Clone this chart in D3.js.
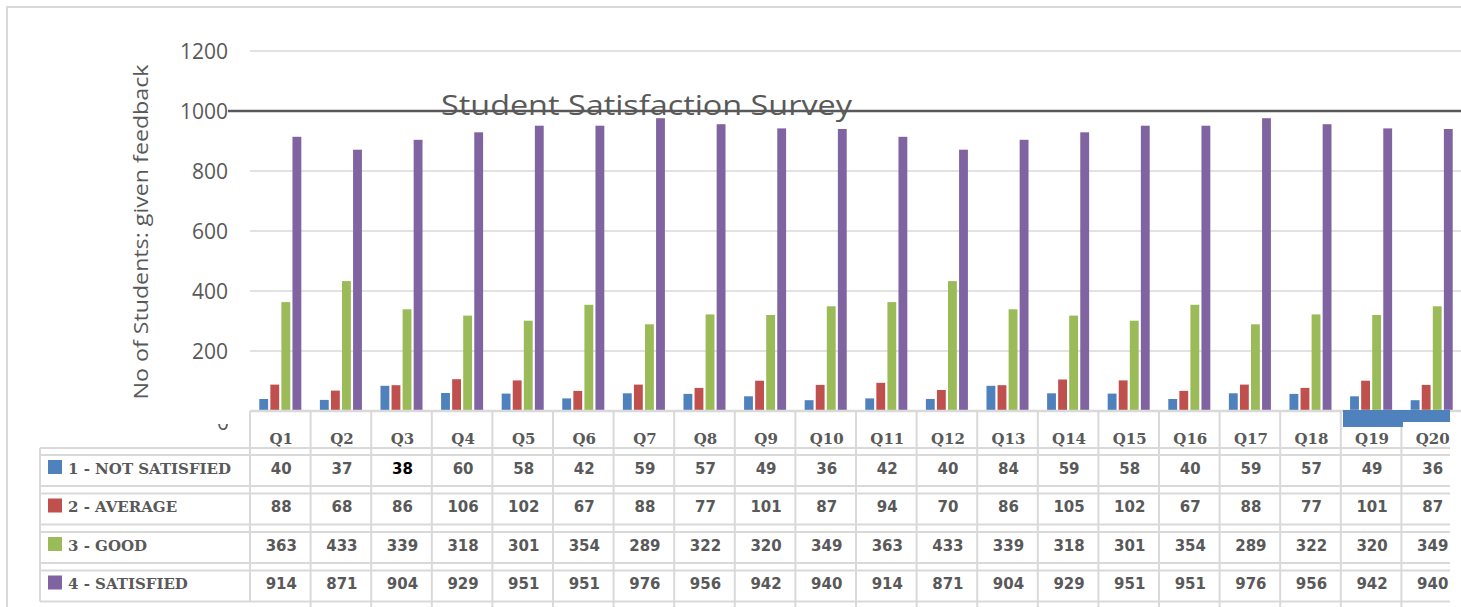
<!DOCTYPE html>
<html>
<head>
<meta charset="utf-8">
<script src="https://cdn.jsdelivr.net/npm/d3@7"></script>
<style>
  body { margin: 0; background: #fff; }
  svg { display: block; }
</style>
</head>
<body>
<script>
const categories = ["Q1","Q2","Q3","Q4","Q5","Q6","Q7","Q8","Q9","Q10",
                    "Q11","Q12","Q13","Q14","Q15","Q16","Q17","Q18","Q19","Q20"];
const seriesNames = ["1 - NOT SATISFIED", "2 - AVERAGE", "3 - GOOD", "4 - SATISFIED"];
const seriesColors = ["#4f81bd", "#c0504d", "#9bbb59", "#8064a2"];

const notSatisfied = [40,37,84,60,58,42,59,57,49,36,42,40,84,59,58,40,59,57,49,36];
const average      = [88,68,86,106,102,67,88,77,101,87,94,70,86,105,102,67,88,77,101,87];
const good         = [363,433,339,318,301,354,289,322,320,349,363,433,339,318,301,354,289,322,320,349];
const satisfied    = [914,871,904,929,951,951,976,956,942,940,914,871,904,929,951,951,976,956,942,940];

const yTicks = [0, 200, 400, 600, 800, 1000, 1200];

// the data table shows 38 for Q3 although the bar is drawn at 84
const editedCell = { row: 0, col: 2, text: "38" };

const series = [notSatisfied, average, good, satisfied];

const W = 1461, H = 607;
const grey = "#595959", lineGrey = "#d9d9d9";

const svg = d3.select("body").append("svg")
    .attr("width", W)
    .attr("height", H);

// outer frame
svg.append("rect")
    .attr("x", 7).attr("y", 7)
    .attr("width", W + 20).attr("height", H + 20)
    .attr("fill", "none")
    .attr("stroke", lineGrey)
    .attr("stroke-width", 2);

const y = d3.scaleLinear().domain([0, 1200]).range([411, 51]);
const cols = d3.scaleBand().domain(categories).range([250, 1462]);
const x0 = d3.scaleBand().domain(categories).range([250, 1462])
    .paddingInner(0.27).paddingOuter(0.135);
const x1 = d3.scaleBand().domain(d3.range(series.length)).range([0, x0.bandwidth()])
    .paddingInner(0.2).paddingOuter(0.1);

// gridlines
svg.append("g").selectAll("line")
  .data(yTicks.filter(d => d > 0))
  .enter().append("line")
    .attr("x1", 250).attr("x2", W)
    .attr("y1", d => y(d)).attr("y2", d => y(d))
    .attr("stroke", lineGrey)
    .attr("stroke-width", 1.5);

// tick labels
svg.append("g").selectAll("text")
  .data(yTicks.filter(d => d > 0))
  .enter().append("text")
    .attr("x", 228)
    .attr("y", d => y(d))
    .attr("dy", "0.36em")
    .attr("text-anchor", "end")
    .attr("font-family", "Open Sans")
    .attr("font-size", 21)
    .attr("fill", grey)
    .text(d => d);

// the "0" label is mostly hidden behind the table header
svg.append("clipPath").attr("id", "zeroClip")
  .append("rect").attr("x", 190).attr("y", 424).attr("width", 50).attr("height", 10);
svg.append("text")
    .attr("clip-path", "url(#zeroClip)")
    .attr("x", 229)
    .attr("y", 430)
    .attr("text-anchor", "end")
    .attr("font-family", "Open Sans")
    .attr("font-size", 21)
    .attr("fill", grey)
    .text(yTicks[0]);

// y axis title
svg.append("text")
    .attr("transform", "translate(148,232) rotate(-90)")
    .attr("text-anchor", "middle")
    .attr("font-family", "Open Sans")
    .attr("font-size", 20)
    .attr("fill", grey)
    .attr("textLength", 335)
    .attr("lengthAdjust", "spacingAndGlyphs")
    .text("No of Students: given feedback");

// bars
const groups = svg.append("g").selectAll("g")
  .data(categories)
  .enter().append("g")
    .attr("transform", d => "translate(" + x0(d) + ",0)");

groups.selectAll("rect")
  .data((d, i) => series.map((s, j) => ({ j: j, v: s[i] })))
  .enter().append("rect")
    .attr("x", d => x1(d.j))
    .attr("y", d => y(d.v))
    .attr("width", x1.bandwidth())
    .attr("height", d => y(0) - y(d.v))
    .attr("fill", d => seriesColors[d.j]);

// dark line across the 1000 level and the title
svg.append("line")
    .attr("x1", 228).attr("x2", W)
    .attr("y1", y(1000)).attr("y2", y(1000))
    .attr("stroke", grey)
    .attr("stroke-width", 2.5);

svg.append("text")
    .attr("x", 646.5)
    .attr("y", 115)
    .attr("text-anchor", "middle")
    .attr("font-family", "Open Sans")
    .attr("font-size", 28)
    .attr("fill", grey)
    .attr("textLength", 411)
    .attr("lengthAdjust", "spacingAndGlyphs")
    .text("Student Satisfaction Survey");

// ---- data table ----
svg.append("clipPath").attr("id", "tableClip")
  .append("rect").attr("x", 0).attr("y", 0).attr("width", 1450).attr("height", H);

const table = svg.append("g").attr("clip-path", "url(#tableClip)");

const rowTop = i => 455 + i * 38.5;
const rowH = 31;

// axis / header top line
svg.append("line")
    .attr("x1", 250).attr("x2", W)
    .attr("y1", 411).attr("y2", 411)
    .attr("stroke", lineGrey).attr("stroke-width", 2.5);

const hLines = [448];
series.forEach((s, i) => { hLines.push(rowTop(i), rowTop(i) + rowH); });

table.selectAll("line.h")
  .data(hLines)
  .enter().append("line")
    .attr("class", "h")
    .attr("x1", 40).attr("x2", 1450)
    .attr("y1", d => d).attr("y2", d => d)
    .attr("stroke", lineGrey).attr("stroke-width", 2);

table.append("line")
    .attr("x1", 40).attr("x2", 40)
    .attr("y1", 448).attr("y2", rowTop(3) + rowH)
    .attr("stroke", lineGrey).attr("stroke-width", 2);
table.append("line")
    .attr("x1", 250).attr("x2", 250)
    .attr("y1", 411).attr("y2", rowTop(3) + rowH)
    .attr("stroke", lineGrey).attr("stroke-width", 2);

table.selectAll("line.v")
  .data(categories.slice(1))
  .enter().append("line")
    .attr("class", "v")
    .attr("x1", d => cols(d)).attr("x2", d => cols(d))
    .attr("y1", 411).attr("y2", H)
    .attr("stroke", lineGrey).attr("stroke-width", 2);

// header labels
table.selectAll("text.q")
  .data(categories)
  .enter().append("text")
    .attr("class", "q")
    .attr("x", d => cols(d) + cols.bandwidth() / 2 + 1)
    .attr("y", 444)
    .attr("text-anchor", "middle")
    .attr("font-family", "DejaVu Serif")
    .attr("font-weight", "bold")
    .attr("font-size", 15)
    .attr("fill", grey)
    .text(d => d);

// legend keys + row labels
const rows = table.selectAll("g.row")
  .data(seriesNames)
  .enter().append("g")
    .attr("class", "row");

rows.append("rect")
    .attr("x", 48)
    .attr("y", (d, i) => rowTop(i) + 5)
    .attr("width", 14).attr("height", 14)
    .attr("fill", (d, i) => seriesColors[i]);

rows.append("text")
    .attr("x", 68)
    .attr("y", (d, i) => rowTop(i) + 18.5)
    .attr("font-family", "DejaVu Serif")
    .attr("font-weight", "bold")
    .attr("font-size", 15)
    .attr("fill", grey)
    .text(d => d);

// values
rows.each(function (name, i) {
  d3.select(this).selectAll("text.val")
    .data(series[i])
    .enter().append("text")
      .attr("class", "val")
      .attr("x", (d, c) => cols(categories[c]) + cols.bandwidth() / 2 + 1)
      .attr("y", rowTop(i) + 18.5)
      .attr("text-anchor", "middle")
      .attr("font-family", "DejaVu Sans")
      .attr("font-weight", "bold")
      .attr("font-size", 15)
      .attr("fill", (d, c) => (i === editedCell.row && c === editedCell.col) ? "#000" : grey)
      .text((d, c) => (i === editedCell.row && c === editedCell.col) ? editedCell.text : d);
});

// stray blue selection block under Q19/Q20
svg.append("rect")
    .attr("x", 1343).attr("y", 410)
    .attr("width", 60).attr("height", 17)
    .attr("fill", seriesColors[0]);
svg.append("rect")
    .attr("x", 1402).attr("y", 410)
    .attr("width", 48).attr("height", 12)
    .attr("fill", seriesColors[0]);
</script>
</body>
</html>
